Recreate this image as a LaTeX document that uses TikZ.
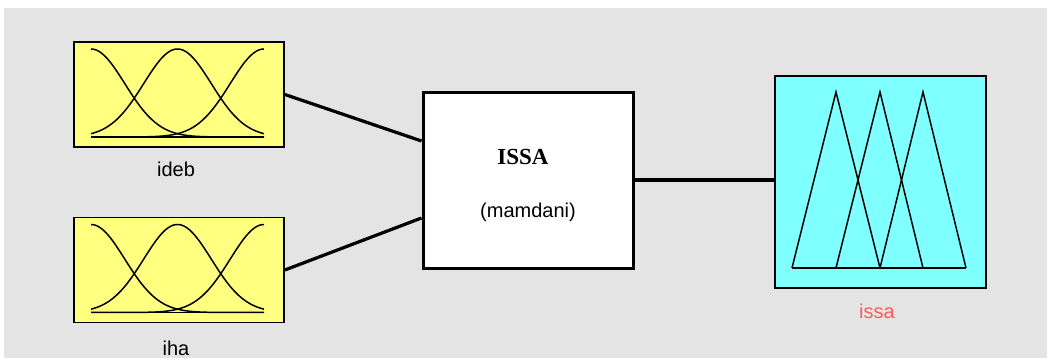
\documentclass[tikz,border=0pt]{standalone}
\usepackage{fontspec}
\setmainfont{Liberation Sans}
\newfontfamily\titlefont{Liberation Serif}
\definecolor{panelgray}{RGB}{228,228,228}
\definecolor{mfyellow}{RGB}{255,255,128}
\definecolor{mfcyan}{RGB}{128,255,255}
\definecolor{outred}{RGB}{255,90,90}
\tikzset{
  varbox/.style={draw=black, line width=1.8pt, inner sep=0pt},
  inbox/.style={varbox, fill=mfyellow, minimum width=210pt, minimum height=105pt},
  outbox/.style={varbox, fill=mfcyan, minimum width=211pt, minimum height=212pt},
  fisbox/.style={draw=black, line width=3pt, fill=white, inner sep=0pt,
                 minimum width=210pt, minimum height=175pt},
  link/.style={line width=3.2pt},
  mf/.style={line width=1.5pt},
  varlabel/.style={anchor=base, inner sep=0pt, font=\fontsize{20}{22}\selectfont},
}
% three gaussian membership functions; #1 = baseline y, #2 = peak height
\newcommand\gaussmfs[2]{%
  \draw[mf] (91,#1) -- (264,#1);
  \foreach \c in {91,177.5,264}{
    \draw[mf] plot[domain=91:264, samples=90, smooth]
      (\x, {#1-#2*exp(-0.5*((\x-\c)/33.8)^2)});
  }%
}
\begin{document}
\begin{tikzpicture}[x=1pt, y=-1pt]
  \useasboundingbox (0,0) rectangle (1047,358);
  \fill[white] (0,0) rectangle (1047,358);
  \fill[panelgray] (4,8) rectangle (1047,358);

  % input variables
  \node[inbox] (ideb) at (179,94.5) {};
  \gaussmfs{137}{88}
  \node[varlabel] (idebl) at (176,177) {ideb};

  \node[inbox] (iha) at (179,270) {};
  \gaussmfs{312.5}{88}
  \node[varlabel] (ihal) at (176,355) {iha};

  % inference system
  \node[fisbox] (fis) at (528,180.5) {};
  \node[anchor=base, inner sep=0pt, font=\titlefont\bfseries\fontsize{23}{25}\selectfont]
    (fisname) at (523,165) {ISSA};
  \node[varlabel] (fistype) at (528,218) {(mamdani)};

  % output variable
  \node[outbox] (issa) at (880.5,182) {};
  \foreach \a/\b/\c in {792/836/880, 836/880/923, 880/923/966}{
    \draw[mf] (\a,268) -- (\b,92) -- (\c,268);
  }
  \draw[mf] (792,268) -- (966,268);
  \node[varlabel, text=outred] (issal) at (877,318) {issa};

  % connectors
  \coordinate (fisin1) at (fis.west |- 0,141);
  \coordinate (fisin2) at (fis.west |- 0,218);
  \coordinate (fisout) at (fis.east |- 0,180);
  \draw[link] (ideb.east) -- (fisin1);
  \draw[link] (iha.east) -- (fisin2);
  \draw[link] (fisout) -- (issa.west |- fisout);
\end{tikzpicture}
\end{document}
